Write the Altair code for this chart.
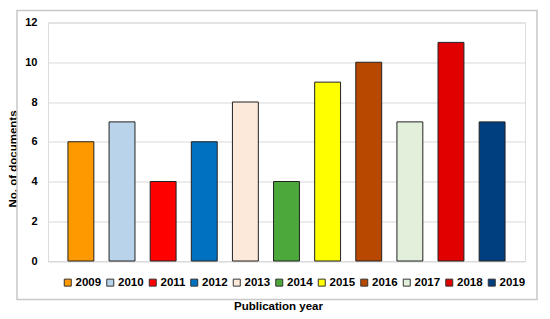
import altair as alt
import pandas as pd

years = ["2009", "2010", "2011", "2012", "2013", "2014", "2015", "2016", "2017", "2018", "2019"]
counts = [6, 7, 4, 6, 8, 4, 9, 10, 7, 11, 7]
colors = ["#FF9900", "#B9D3EB", "#FF0000", "#0070C0", "#FDE9D9", "#4CA83A",
          "#FFFF00", "#B84700", "#E2EFDA", "#E00000", "#003F7F"]
y_ticks = [0, 2, 4, 6, 8, 10, 12]

df = pd.DataFrame({"year": years, "count": counts})

FONT = "Liberation Sans"

bars = alt.Chart(df).mark_bar(stroke="#222222", strokeWidth=1).encode(
    x=alt.X("year:N", sort=years,
            scale=alt.Scale(paddingInner=0.37, paddingOuter=0.485),
            axis=alt.Axis(labels=False, ticks=False, domain=True, domainColor="#D9D9D9",
                          title="Publication year", titleX=230, titleY=48,
                          titleBaseline="alphabetic", titleAlign="center",
                          titleFont=FONT, titleFontSize=11.5, titleFontWeight="bold",
                          titleColor="#000000")),
    y=alt.Y("count:Q", scale=alt.Scale(domain=[0, 12], nice=False),
            axis=alt.Axis(values=y_ticks, domain=False, ticks=False, grid=True,
                          gridColor="#D9D9D9", gridWidth=1,
                          labelFont=FONT, labelFontSize=11, labelFontWeight="bold",
                          labelColor="#000000", labelPadding=11,
                          title="No. of documents", titleX=-31.7, titleY=136,
                          titleAngle=270, titleAlign="center", titleBaseline="alphabetic",
                          titleFont=FONT, titleFontSize=11.5, titleFontWeight="bold",
                          titleColor="#000000")),
    color=alt.Color("year:N", sort=years,
                    scale=alt.Scale(domain=years, range=colors),
                    legend=alt.Legend(orient="none", legendX=14, legendY=254,
                                      direction="horizontal", columns=11, title=None,
                                      symbolType="square", symbolSize=49,
                                      symbolStrokeColor="#333333", symbolStrokeWidth=1,
                                      labelFont=FONT, labelFontSize=11.5,
                                      labelFontWeight="bold", labelColor="#000000",
                                      labelOffset=2, columnPadding=2.5, padding=0)),
)

frame = alt.Chart(alt.Data(values=[{"k": 1}])).mark_rect(
    fillOpacity=0, stroke="#C8C8C8", strokeWidth=1.5
).encode(
    x=alt.value(-31), x2=alt.value(489), y=alt.value(-12), y2=alt.value(277)
)

chart = alt.layer(frame, bars).properties(
    width=477, height=238.5,
    autosize=alt.AutoSizeParams(type="none"),
    padding={"left": 40, "top": 14.5, "right": 17, "bottom": 52},
).configure_view(stroke=None).configure(background="#FFFFFF")

chart.save("out.html", embed_options={"renderer": "svg", "actions": False})
